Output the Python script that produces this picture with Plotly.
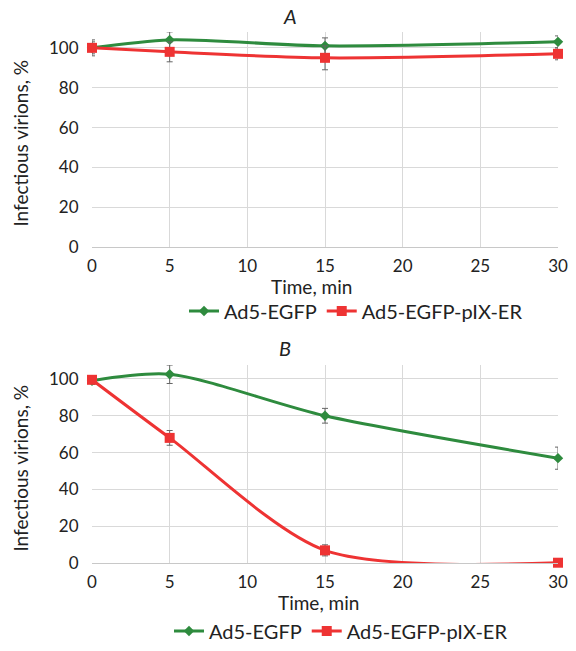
import plotly.graph_objects as go

time = [0, 5, 15, 30]

# Panel A
a_egfp = [100, 104, 101, 103]
a_egfp_err = [4, 4, 4, 3]
a_er = [100, 98, 95, 97]
a_er_err = [3, 5, 6, 3]

# Panel B
b_egfp = [99, 102.5, 80, 57]
b_egfp_err = [2, 5, 4, 6]
b_er = [99.5, 68, 7, 0.3]
b_er_err = [2, 4, 3, 1]

names = ["Ad5-EGFP", "Ad5-EGFP-pIX-ER"]
green = "#2e8b3e"
red = "#ee3333"
font_family = "Lato, Open Sans, sans-serif"
text_color = "#222222"

W, H = 576, 651

def px_(v):
    return v / W

def py(v):
    return 1 - v / H

fig = go.Figure()

def add_series(y, err, color, symbol, size, name, xa, ya, legend):
    fig.add_trace(go.Scatter(
        x=time, y=y, name=name, mode="lines+markers",
        line=dict(color=color, width=3, shape="spline", smoothing=0.8),
        marker=dict(symbol=symbol, size=size, color=color),
        error_y=dict(type="data", array=err, color="#666666", thickness=1, width=3),
        xaxis=xa, yaxis=ya, legend=legend,
        cliponaxis=False,
    ))

add_series(a_egfp, a_egfp_err, green, "diamond", 8, names[0], "x", "y", "legend")
add_series(a_er, a_er_err, red, "square", 10, names[1], "x", "y", "legend")
add_series(b_egfp, b_egfp_err, green, "diamond", 8, names[0], "x2", "y2", "legend2")
add_series(b_er, b_er_err, red, "square", 10, names[1], "x2", "y2", "legend2")

axis_font = dict(family=font_family, size=17, color=text_color)
title_font = dict(family=font_family, size=19, color=text_color)
xdom = [px_(92), px_(558)]

common_x = dict(range=[0, 30], tickvals=[0, 5, 10, 15, 20, 25, 30], showgrid=True,
                gridcolor="#d9d9d9", gridwidth=1, zeroline=False, showline=True,
                linecolor="#c8c8c8", linewidth=1, tickfont=axis_font,
                ticks="outside", ticklen=3, tickcolor="rgba(0,0,0,0)", automargin=False)
common_y = dict(tickvals=[0, 20, 40, 60, 80, 100], showgrid=True, gridcolor="#d9d9d9",
                gridwidth=1, zeroline=False, showline=False, tickfont=axis_font,
                ticks="outside", ticklen=9, tickcolor="rgba(0,0,0,0)", automargin=False)

legend_font = dict(family=font_family, size=20, color=text_color)

def ann(text, x, y, font, angle=0):
    return dict(text=text, x=px_(x), y=py(y), xref="paper", yref="paper",
                xanchor="center", yanchor="middle", showarrow=False,
                textangle=angle, font=font)

fig.update_layout(
    width=W, height=H,
    margin=dict(l=0, r=0, t=0, b=0),
    paper_bgcolor="white", plot_bgcolor="white",
    font=dict(family=font_family, color=text_color),
    xaxis=dict(domain=xdom, anchor="y", **common_x),
    yaxis=dict(domain=[py(248), py(32)], anchor="x", range=[0, 108], **common_y),
    xaxis2=dict(domain=xdom, anchor="y2", **common_x),
    yaxis2=dict(domain=[py(565), py(366)], anchor="x2", range=[0, 107.6], **common_y),
    legend=dict(orientation="h", x=px_(356), xanchor="center", y=py(312), yanchor="middle",
                font=legend_font, itemwidth=30, tracegroupgap=0, bgcolor="rgba(0,0,0,0)"),
    legend2=dict(orientation="h", x=px_(341), xanchor="center", y=py(633), yanchor="middle",
                 font=legend_font, itemwidth=30, tracegroupgap=0, bgcolor="rgba(0,0,0,0)"),
    annotations=[
        ann("<i>A</i>", 290, 16, dict(family=font_family, size=20, color=text_color)),
        ann("<i>B</i>", 285, 349, dict(family=font_family, size=20, color=text_color)),
        ann("Time, min", 311, 287, title_font),
        ann("Time, min", 318, 604, title_font),
        ann("Infectious virions, %", 21, 144, title_font, -90),
        ann("Infectious virions, %", 21, 470, title_font, -90),
    ],
)

# remove the default page margin so the figure sits at the window origin
fig.write_html("out.html", config={"displayModeBar": False},
               post_script="document.body.style.margin='0';")
